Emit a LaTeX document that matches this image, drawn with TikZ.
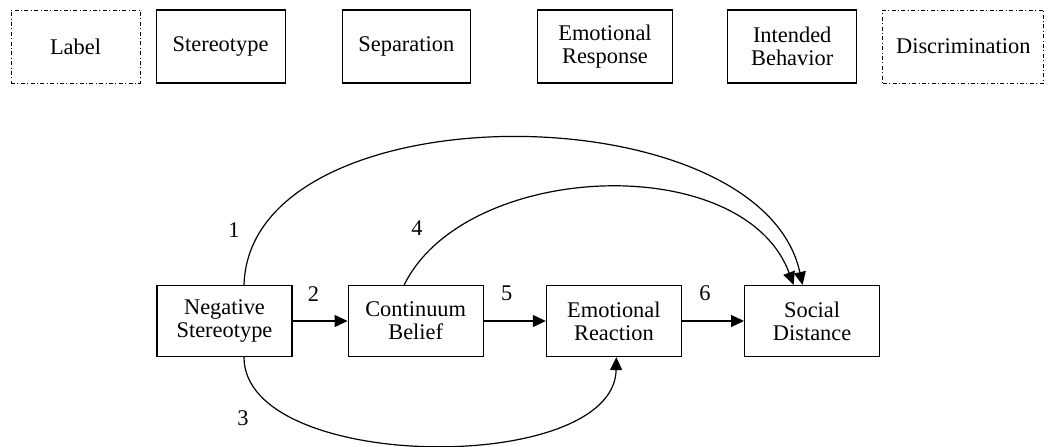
\documentclass[tikz,border=0pt]{standalone}
\usepackage{fontspec}
\setmainfont{Liberation Serif}
\usetikzlibrary{arrows.meta,positioning}

\begin{document}
\begin{tikzpicture}[x=0.5pt, y=-0.5pt, line width=0.6pt,
  box/.style = {draw, align=center, minimum width=67.5pt, minimum height=36.5pt, inner sep=1pt, font=\fontsize{11.2}{11.6}\selectfont},
  dotbox/.style = {box, line width=0.5pt, dash pattern=on 2pt off 1.2pt on 0.5pt off 1.2pt},
  num/.style = {font=\fontsize{11.2}{11.6}\selectfont},
  arr/.style = {-{Triangle[length=6.5pt,width=6pt]}}]
  \useasboundingbox (0,0) rectangle (1055,446);

  % top row
  \node[dotbox, minimum width=64.5pt] (label) at (75.5,46.5) {Label};
  \node[box, minimum width=64.5pt, right=7.5pt of label] (stereo) {Stereotype};
  \node[box, minimum width=64pt, right=28pt of stereo] (sep) {Separation};
  \node[box, right=33pt of sep] (emoresp) {Emotional\\Response};
  \node[box, minimum width=64.5pt, right=27pt of emoresp] (intbeh) {Intended\\Behavior};
  \node[dotbox, minimum width=80.5pt, right=12.5pt of intbeh] (discr) {Discrimination};

  % model
  \node[box, minimum height=35.5pt] (negst) at (224.5,321) {Negative\\Stereotype};
  \node[box, minimum height=35.5pt, right=27.5pt of negst] (contb) {Continuum\\Belief};
  \node[box, minimum height=35.5pt, right=31pt of contb] (emoreac) {Emotional\\Reaction};
  \node[box, minimum height=35.5pt, right=31pt of emoreac] (socd) {Social\\Distance};

  \draw[arr] (negst) -- node[num, pos=0.38, above=6pt] (n2) {2} (contb);
  \draw[arr] (contb) -- node[num, pos=0.37, above=6.5pt] (n5) {5} (emoreac);
  \draw[arr] (emoreac) -- node[num, pos=0.37, above=6.5pt] (n6) {6} (socd);

  \draw[arr] ([xshift=9.75pt]negst.north) .. controls (250,88) and (760,90) .. ([xshift=-4.75pt]socd.north);
  \draw[arr] ([xshift=-5.75pt]contb.north) .. controls (465,161) and (743,149) .. ([xshift=-9.25pt]socd.north);
  \draw[arr] ([xshift=9.75pt]negst.south) .. controls (244,473) and (614,476) .. ([xshift=1.25pt]emoreac.south);

  \node[num] (n1) at (234,230) {1};
  \node[num] (n4) at (417,228) {4};
  \node[num] (n3) at (243,418) {3};
\end{tikzpicture}
\end{document}
